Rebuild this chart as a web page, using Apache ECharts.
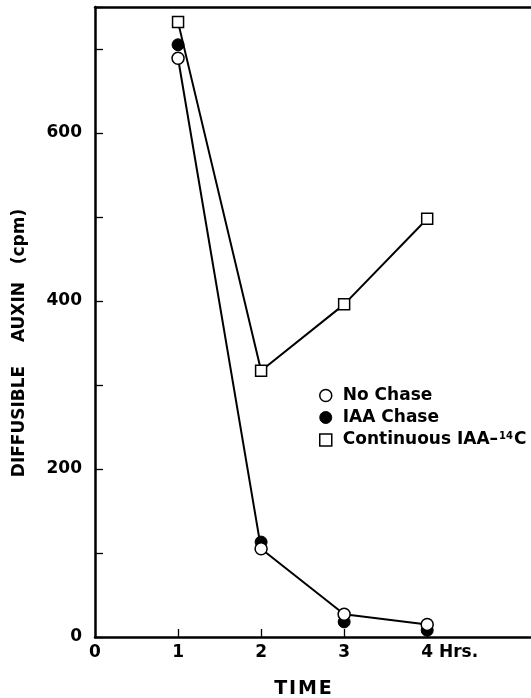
<!DOCTYPE html>
<html>
<head>
<meta charset="utf-8">
<script src="https://cdn.jsdelivr.net/npm/echarts@6/dist/echarts.min.js"></script>
<style>
  html, body { margin: 0; padding: 0; background: #fff; }
  #chart { width: 531px; height: 698px; }
</style>
</head>
<body>
<div id="chart"></div>
<script>
// data
var times = [1, 2, 3, 4];
var noChase = [689, 105, 27, 15];
var iaaChase = [705, 113, 18, 8];
var continuous = [732, 317, 396, 498];
var xLabels = [0, 1, 2, 3, 4];
var yLabels = [0, 200, 400, 600];

var FONT = 'DejaVu Sans';

function pairs(vals) {
    return vals.map(function (v, i) { return [times[i], v]; });
}

var chart = echarts.init(document.getElementById('chart'));

var option = {
    backgroundColor: '#fff',
    animation: false,
    grid: { left: 95, right: 0, top: 7, bottom: 61 },
    legend: {
        orient: 'vertical',
        left: 314,
        top: 382,
        itemGap: 5,
        itemWidth: 12,
        itemHeight: 12,
        textStyle: {
            fontFamily: FONT, fontSize: 17, fontWeight: 'bold', color: '#000',
            padding: [0, 0, 0, 6],
            rich: {
                sup: { fontFamily: FONT, fontSize: 10, fontWeight: 'bold', verticalAlign: 'top', padding: [0, 1, 8, 1] }
            }
        },
        formatter: function (name) {
            if (name === 'Continuous IAA-14C') return 'Continuous IAA\u2013{sup|14}C';
            return name;
        },
        data: [
            { name: 'No Chase', icon: 'circle', itemStyle: { color: '#fff', borderColor: '#000', borderWidth: 1.5 } },
            { name: 'IAA Chase', icon: 'circle', itemStyle: { color: '#000', borderColor: '#000', borderWidth: 1 } },
            { name: 'Continuous IAA-14C', icon: 'rect', itemStyle: { color: '#fff', borderColor: '#000', borderWidth: 1.5 } }
        ]
    },
    xAxis: [
        {
            type: 'value',
            min: 0,
            max: 5.25,
            interval: 1,
            splitLine: { show: false },
            axisLine: { lineStyle: { color: '#000', width: 2.5 } },
            axisTick: { inside: true, length: 8, customValues: [1, 2, 3, 4], lineStyle: { color: '#000', width: 1.3 } },
            axisLabel: {
                customValues: xLabels,
                margin: 7,
                color: '#000',
                fontFamily: FONT,
                fontSize: 17,
                fontWeight: 'bold',
                formatter: function (v) {
                    if (v === 4) return '{p|}4 Hrs.';
                    return String(v);
                },
                rich: { p: { width: 45 } }
            }
        },
        {
            type: 'value',
            position: 'top',
            min: 0,
            max: 5.25,
            splitLine: { show: false },
            axisLine: { show: true, lineStyle: { color: '#000', width: 2.5 } },
            axisTick: { show: false },
            axisLabel: { show: false }
        }
    ],
    yAxis: {
        type: 'value',
        min: 0,
        max: 750,
        interval: 100,
        splitLine: { show: false },
        axisLine: { show: true, lineStyle: { color: '#000', width: 2.5 } },
        axisTick: { show: true, inside: true, length: 8, lineStyle: { color: '#000', width: 1.3 } },
        axisLabel: {
            customValues: yLabels,
            margin: 13,
            color: '#000',
            fontFamily: FONT,
            fontSize: 17,
            fontWeight: 'bold'
        }
    },
    graphic: [
        {
            type: 'text',
            x: 303,
            y: 689,
            style: { text: 'T\u200AI\u200AM\u200AE', fontFamily: FONT, fontSize: 19, fontWeight: 'bold', fill: '#000', align: 'center', verticalAlign: 'middle' }
        },
        {
            type: 'text',
            x: 20,
            y: 343,
            rotation: Math.PI / 2,
            style: { text: 'DIFFUSIBLE    AUXIN   (cpm)', fontFamily: FONT, fontSize: 17, fontWeight: 'bold', fill: '#000', align: 'center', verticalAlign: 'middle' }
        }
    ],
    series: [
        {
            name: 'Continuous IAA-14C',
            type: 'line',
            data: pairs(continuous),
            symbol: 'rect',
            symbolSize: 11,
            z: 3,
            lineStyle: { color: '#000', width: 2 },
            itemStyle: { color: '#fff', borderColor: '#000', borderWidth: 1.5 }
        },
        {
            name: 'IAA Chase',
            type: 'scatter',
            data: pairs(iaaChase),
            symbol: 'circle',
            symbolSize: 12,
            z: 3,
            itemStyle: { color: '#000', borderColor: '#000', borderWidth: 1, opacity: 1 }
        },
        {
            name: 'No Chase',
            type: 'line',
            data: pairs(noChase),
            symbol: 'circle',
            symbolSize: 12,
            z: 4,
            lineStyle: { color: '#000', width: 2 },
            itemStyle: { color: '#fff', borderColor: '#000', borderWidth: 1.5 }
        }
    ]
};

chart.setOption(option);
</script>
</body>
</html>
